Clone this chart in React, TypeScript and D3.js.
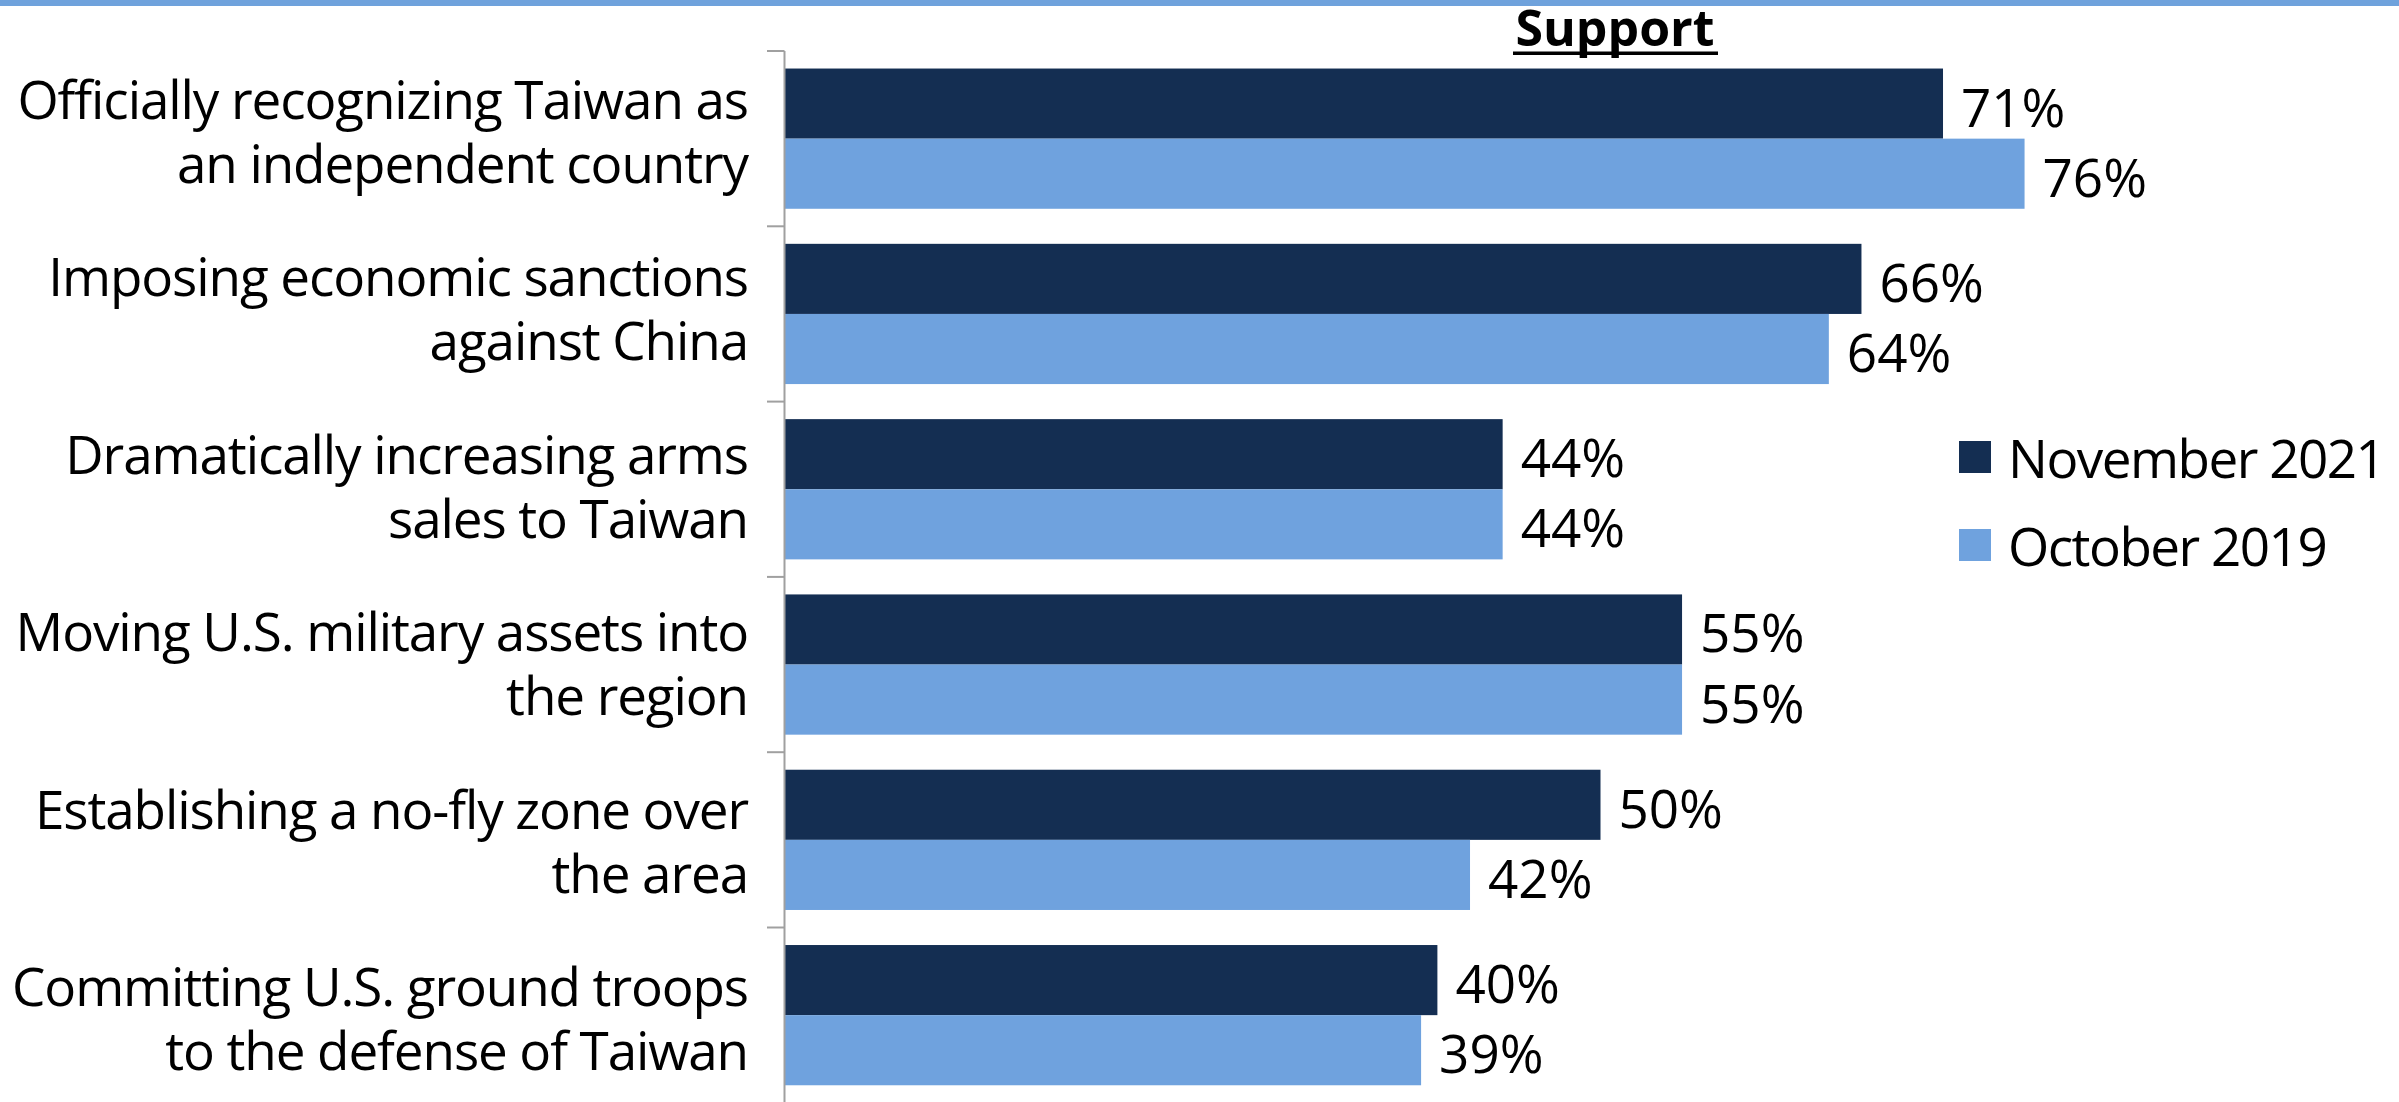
import React from "react";
import * as d3 from "d3";

const categories = [
  "Officially recognizing Taiwan as|an independent country",
  "Imposing economic sanctions|against China",
  "Dramatically increasing arms|sales to Taiwan",
  "Moving U.S. military assets into|the region",
  "Establishing a no-fly zone over|the area",
  "Committing U.S. ground troops|to the defense of Taiwan",
];
const seriesNames = ["November 2021", "October 2019"];
const nov2021 = [71, 66, 44, 55, 50, 40];
const oct2019 = [76, 64, 44, 55, 42, 39];
const seriesColors = ["#142E52", "#6FA2DE"];
const title = "Support";

const W = 2399;
const H = 1102;
const FONT = "'Open Sans', 'Noto Sans', sans-serif";

export default function App() {
  const values = [nov2021, oct2019];
  const y = d3.scaleBand<string>().domain(categories).range([51, 51 + 6 * 175.3]).padding(0);
  const yLabel = d3.scaleBand<string>().domain(categories).range([47, 47 + 6 * 177.5]).padding(0);
  const ys = d3
    .scaleBand<string>()
    .domain(seriesNames)
    .range([0, y.bandwidth()])
    .paddingInner(0)
    .paddingOuter(0.25);
  const x = d3.scaleLinear().domain([0, 100]).range([785, 785 + 1631]);
  const axisX = 784.5;
  const fs = 53;
  const ls = -1.1;

  const tickYs = categories.map((c) => y(c)!);

  return (
    <svg
      width={W}
      height={H}
      style={{ position: "absolute", left: 0, top: 0, display: "block", background: "#fff" }}
      fontFamily={FONT}
    >
      <rect x={0} y={0} width={W} height={6} fill="#6FA2DC" />
      {/* title */}
      <text x={1615} y={46} textAnchor="middle" fontSize={50} fontWeight="bold" fill="#000">
        {title}
      </text>
      <rect x={1513} y={51.5} width={205} height={3.5} fill="#000" />

      {/* bars */}
      {categories.map((c, i) =>
        seriesNames.map((s, j) => {
          const v = values[j][i];
          const by = y(c)! + ys(s)!;
          return (
            <g key={c + s}>
              <rect
                x={x(0)}
                y={by}
                width={x(v) - x(0)}
                height={ys.bandwidth()}
                fill={seriesColors[j]}
              />
              <text
                x={x(v) + 18}
                y={by + ys.bandwidth() / 2 + 23}
                fontSize={fs}
                fill="#000"
              >
                {v}%
              </text>
            </g>
          );
        })
      )}

      {/* axis */}
      <line x1={axisX} x2={axisX} y1={51} y2={H} stroke="#A0A0A0" strokeWidth={2} />
      {tickYs.map((ty, i) => (
        <line key={i} x1={767} x2={axisX} y1={ty} y2={ty} stroke="#A0A0A0" strokeWidth={2} />
      ))}

      {/* category labels */}
      {categories.map((c) => {
        const lines = c.split("|");
        const cy = yLabel(c)! + yLabel.bandwidth() / 2;
        return (
          <text key={c} textAnchor="end" fontSize={fs} fill="#000" letterSpacing={ls}>
            <tspan x={748} y={cy - 17}>
              {lines[0]}
            </tspan>
            <tspan x={748} y={cy + 47}>
              {lines[1]}
            </tspan>
          </text>
        );
      })}

      {/* legend */}
      {seriesNames.map((s, j) => (
        <g key={s} transform={`translate(1959, ${441 + j * 88})`}>
          <rect x={0} y={0} width={32} height={32} fill={seriesColors[j]} />
          <text x={49} y={37} fontSize={fs} fill="#000" letterSpacing={-1.5}>
            {s}
          </text>
        </g>
      ))}
    </svg>
  );
}
